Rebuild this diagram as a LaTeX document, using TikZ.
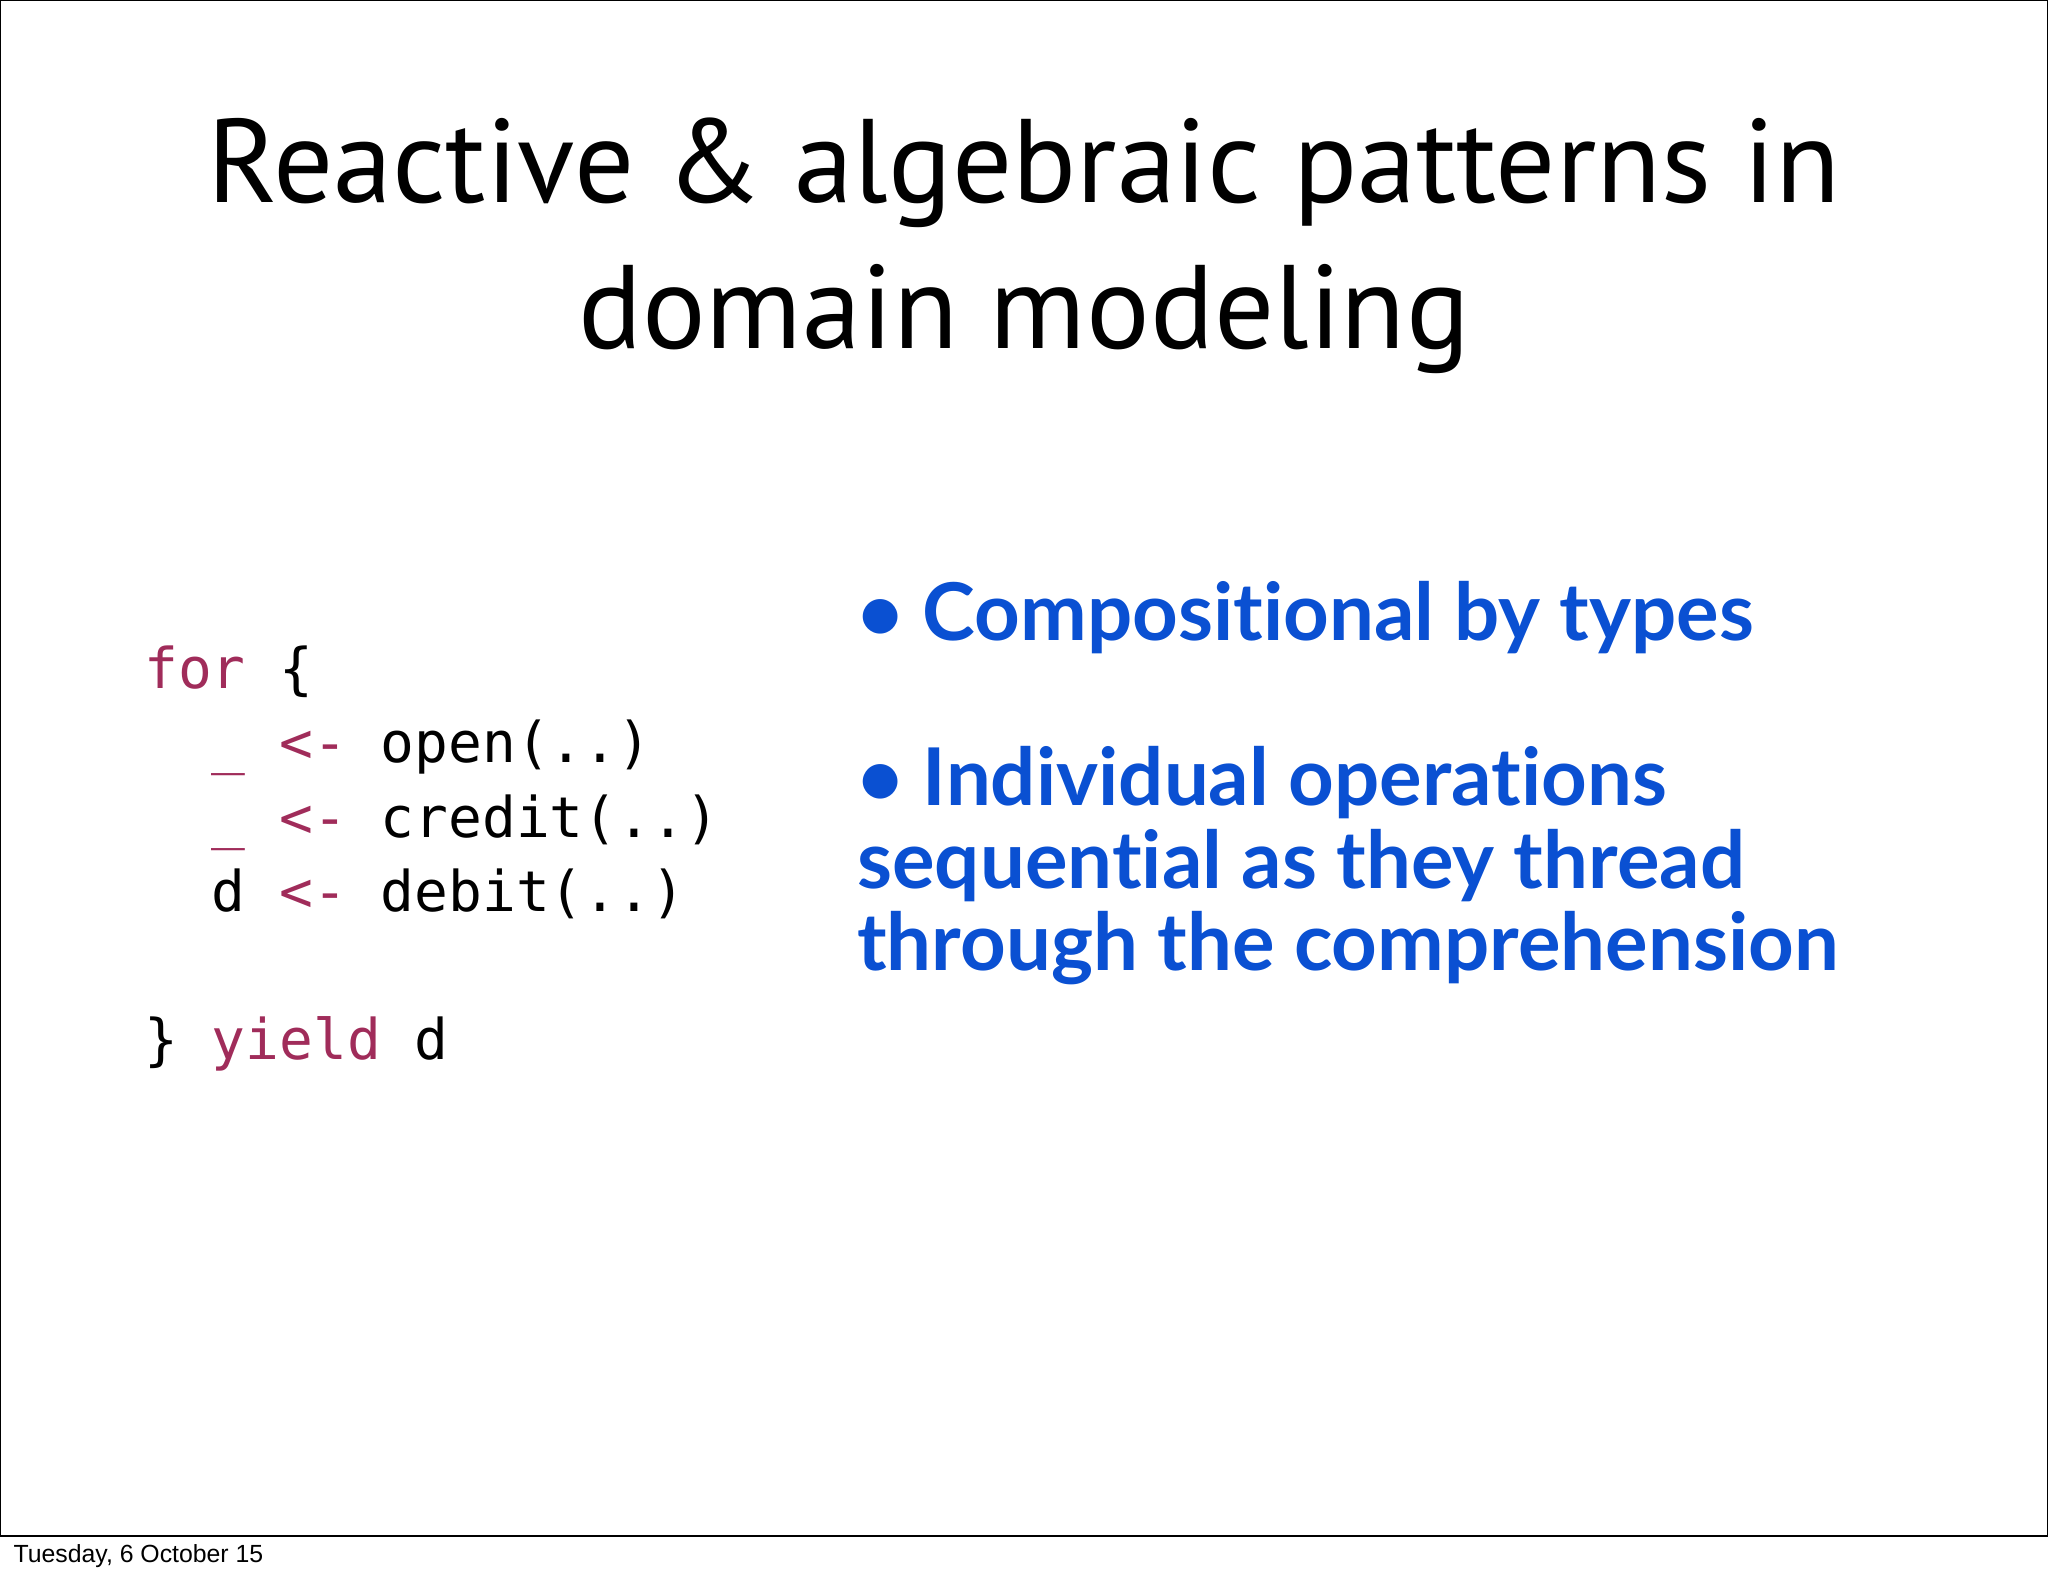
\documentclass[tikz,border=0pt]{standalone}
\usepackage{fontspec}
\setmainfont{Lato}[Ligatures={NoCommon}]
\newfontfamily\titlef{PT Sans}
\newfontfamily\codef{DejaVu Sans Mono}
\newfontfamily\footf{Liberation Sans}
\definecolor{kw}{HTML}{A02C5A}
\definecolor{bl}{HTML}{0A50D2}
\begin{document}
\begin{tikzpicture}[x=0.5pt,y=-0.5pt,
  codeline/.style={anchor=base west,inner sep=0,font=\codef\fontsize{21.5}{24}\selectfont},
  bul/.style={anchor=base west,inner sep=0,text=bl,font=\bfseries\fontsize{30.5}{34}\selectfont}]
\useasboundingbox (0,0) rectangle (1568,1207);
\draw[line width=0.8pt] (0,0) rectangle (1568,1176);
\node[anchor=base,inner sep=0,font=\titlef\fontsize{45.5}{56}\selectfont] (t1) at (784,155) {Reactive \& algebraic patterns in};
\node[anchor=base,inner sep=0,font=\titlef\fontsize{45.5}{56}\selectfont] (t2) at (784,267) {domain modeling};
\node[codeline] (c1) at (110,527) {\textcolor{kw}{for} \{};
\node[codeline] (c2) at (110,584) {\ \ \textcolor{kw}{\_ <-} open(..)};
\node[codeline] (c3) at (110,641) {\ \ \textcolor{kw}{\_ <-} credit(..)};
\node[codeline] (c4) at (110,698) {\ \ d \textcolor{kw}{<-} debit(..)};
\node[codeline] (c5) at (110,811) {\} \textcolor{kw}{yield} d};
\node[bul] (b1) at (656,490) {\textbullet\ Compositional by types};
\node[bul] (b2) at (656,617) {\textbullet\ Individual operations};
\node[bul] (b3) at (656,680) {sequential as they thread};
\node[bul] (b4) at (656,743) {through the comprehension};
\node[anchor=base west,inner sep=0,font=\footf\fontsize{9.5}{11}\selectfont] (f) at (10,1196) {Tuesday, 6 October 15};
\end{tikzpicture}
\end{document}
